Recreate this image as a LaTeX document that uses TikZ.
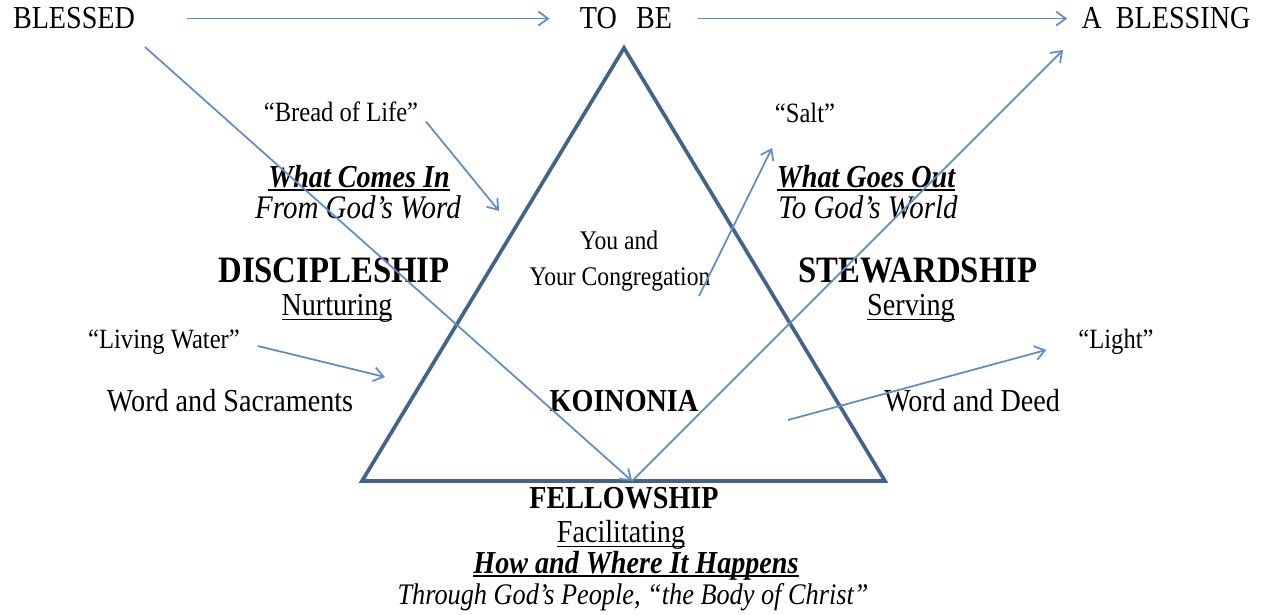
\documentclass[tikz,border=0pt]{standalone}
\usepackage{fontspec}
\setmainfont{Liberation Serif}[FakeStretch=0.88]
\usetikzlibrary{arrows.meta}
\definecolor{trianglecol}{RGB}{68,98,138}
\definecolor{flowcol}{RGB}{98,140,200}
\newcommand{\undr}[2][2.8pt]{\setbox0=\hbox{#2}\rlap{\copy0}\rule[-#1]{\wd0}{0.8pt}}

\begin{document}
\begin{tikzpicture}[x=0.02cm,y=-0.02cm,
  txt/.style={inner sep=0pt,anchor=base,font=\fontsize{18.2}{21}\selectfont},
  quote/.style={inner sep=0pt,anchor=base,font=\fontsize{15.9}{19}\selectfont},
  small/.style={inner sep=0pt,anchor=base,font=\fontsize{15.3}{18}\selectfont},
  ital/.style={inner sep=0pt,anchor=base,font=\fontsize{18.75}{22}\selectfont\itshape},
  bital/.style={inner sep=0pt,anchor=base,font=\fontsize{18.2}{21}\selectfont\bfseries\itshape},
  bold/.style={inner sep=0pt,anchor=base,font=\fontsize{18.2}{21}\selectfont\bfseries},
  head/.style={inner sep=0pt,anchor=base,font=\fontsize{21.2}{25}\selectfont\bfseries},
  flow/.style={flowcol,line width=1pt,-{Straight Barb[length=5.5pt,width=8pt]}}]
  \useasboundingbox (0,0) rectangle (1264,615);
  \node[txt] (blessed) at (74,29) {BLESSED};
  \node[txt] (tobe) at (626,29) {TO\ \ \,BE};
  \node[txt] (ablessing) at (1166,29) {A\ \ BLESSING};
  \coordinate (apex) at (624,48);
  \coordinate (left) at (362,481);
  \coordinate (right) at (885,481);
  \coordinate (meet) at (632,481);
  \coordinate (fromtop) at (145,47);
  \coordinate (totop) at (1063,50);
  \draw[trianglecol,line width=2.1pt] (apex) -- (left) -- (right) -- cycle;
  \node[quote] (bread) at (341,122) {“Bread of Life”};
  \node[bital] (comesin) at (359,187) {\undr[2pt]{What Comes In}};
  \node[ital] (godsword) at (358,218) {From God’s Word};
  \node[head] (disc) at (334,282) {DISCIPLESHIP};
  \node[txt] (nurt) at (337,315) {\undr{Nurturing}};
  \node[quote] (water) at (164,348) {“Living Water”};
  \node[txt] (sacr) at (230,411) {Word and Sacraments};
  \node[small] (you) at (619,249) {You and};
  \node[small] (congr) at (620,285) {Your Congregation};
  \node[bold] (koin) at (624,411) {KOINONIA};
  \node[quote] (salt) at (805,123) {“Salt”};
  \node[bital] (goesout) at (866,187) {\undr[2pt]{What Goes Out}};
  \node[ital] (godsworld) at (868,218) {To God’s World};
  \node[head] (stew) at (918,282) {STEWARDSHIP};
  \node[txt] (serv) at (911,315) {\undr{Serving}};
  \node[quote] (light) at (1116,348) {“Light”};
  \node[txt] (deed) at (972,411) {Word and Deed};
  \node[bold] (fellow) at (624,508) {FELLOWSHIP};
  \node[txt] (facil) at (621,542) {\undr{Facilitating}};
  \node[bital] (howwhere) at (636,573) {\undr[2pt]{How and Where It Happens}};
  \node[ital,font=\fontsize{17}{20}\selectfont\itshape] (people) at (633,604) {Through God’s People, “the Body of Christ”};
  \coordinate (breadend) at (499,211);
  \coordinate (saltstart) at (699,296);
  \coordinate (saltend) at (772,148);
  \coordinate (waterend) at (385,377);
  \coordinate (lightstart) at (788,420);
  \draw[flow,shorten <=1.04cm,shorten >=0.6cm] (blessed.east) -- (tobe.west);
  \draw[flow,shorten <=0.5cm,shorten >=0.28cm] (tobe.east) -- (ablessing.west);
  \draw[flow] (fromtop) -- (meet);
  \draw[flow] (meet) -- (totop);
  \draw[flow,shorten <=0.24cm] (bread.east) -- (breadend);
  \draw[flow] (saltstart) -- (saltend);
  \draw[flow,shorten <=0.36cm] (water.east) -- (waterend);
  \draw[flow,shorten >=0.66cm] (lightstart) -- (light.west);
\end{tikzpicture}
\end{document}
